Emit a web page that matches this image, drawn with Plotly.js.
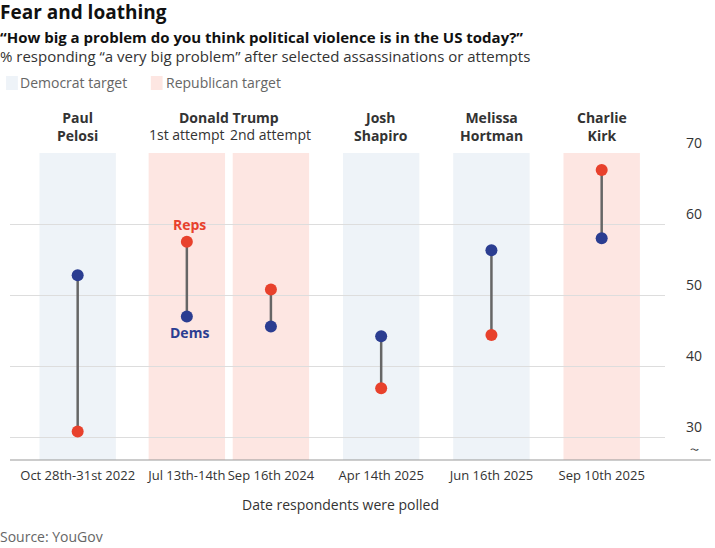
<!DOCTYPE html>
<html>
<head>
<meta charset="utf-8">
<script src="https://cdn.plot.ly/plotly-3.0.1.min.js"></script>
<style>body{margin:0;background:#fff}</style>
</head>
<body>
<div id="chart" style="width:715px;height:548px"></div>
<script>
// values
var dates = ['Oct 28th-31st 2022', 'Jul 13th-14th', 'Sep 16th 2024', 'Apr 14th 2025', 'Jun 16th 2025', 'Sep 10th 2025'];
var xpos = [0, 1, 1.77, 2.78, 3.79, 4.8];
var targets = ['dem', 'rep', 'rep', 'dem', 'dem', 'rep'];
var headers = ['Paul<br>Pelosi', '', '', 'Josh<br>Shapiro', 'Melissa<br>Hortman', 'Charlie<br>Kirk'];
var dems = [52.8, 47.0, 45.6, 44.2, 56.3, 58.0];
var reps = [30.8, 57.5, 50.8, 36.9, 44.4, 67.6];

var blue = '#2b3d91', red = '#e8412c';
var txt = '#333';

// paper y from pixel row (plot area spans rows 153..460)
var py = function(p) { return (460 - p) / 307; };

var shapes = [], annotations = [];
var lineX = [], lineY = [];
xpos.forEach(function(x, i) {
    shapes.push({
        type: 'rect', xref: 'x', yref: 'y', layer: 'below',
        x0: x - 0.35, x1: x + 0.35, y0: 26.8, y1: 70,
        fillcolor: targets[i] === 'dem' ? '#eef3f8' : '#fde6e2', line: {width: 0}
    });
    lineX.push(x, x, null);
    lineY.push(dems[i], reps[i], null);
    if (headers[i]) {
        annotations.push({xref: 'x', yref: 'paper', x: x, y: py(106), yanchor: 'top',
            text: '<b>' + headers[i] + '</b>', showarrow: false, font: {size: 14, color: txt}});
    }
});
annotations.push(
    {xref: 'x', yref: 'paper', x: 1.385, y: py(106), yanchor: 'top', text: '<b>Donald Trump</b>', showarrow: false, font: {size: 14, color: txt}},
    {xref: 'x', yref: 'paper', x: 1, y: py(123), yanchor: 'top', text: '1st attempt', showarrow: false, font: {size: 14, color: txt}},
    {xref: 'x', yref: 'paper', x: 1.77, y: py(123), yanchor: 'top', text: '2nd attempt', showarrow: false, font: {size: 14, color: txt}},
    {xref: 'x', yref: 'y', x: 1.02, y: reps[1] + 2.4, text: '<b>Reps</b>', showarrow: false, font: {size: 14, color: red}},
    {xref: 'x', yref: 'y', x: 1.02, y: dems[1] - 2.3, text: '<b>Dems</b>', showarrow: false, font: {size: 14, color: blue}},
    {xref: 'paper', yref: 'paper', x: -0.018, y: py(-3), xanchor: 'left', yanchor: 'top', text: '<b>Fear and loathing</b>', showarrow: false, font: {size: 19, color: '#111'}},
    {xref: 'paper', yref: 'paper', x: -0.018, y: py(25), xanchor: 'left', yanchor: 'top', text: '<b>“How big a problem do you think political violence is in the US today?”</b>', showarrow: false, font: {size: 15, color: '#111'}},
    {xref: 'paper', yref: 'paper', x: -0.018, y: py(44), xanchor: 'left', yanchor: 'top', text: '% responding “a very big problem” after selected assassinations or attempts', showarrow: false, font: {size: 15, color: txt}},
    {xref: 'paper', yref: 'paper', x: 0.012, y: py(83), xanchor: 'left', yanchor: 'middle', text: 'Democrat target', showarrow: false, font: {size: 14, color: '#666'}},
    {xref: 'paper', yref: 'paper', x: 0.235, y: py(83), xanchor: 'left', yanchor: 'middle', text: 'Republican target', showarrow: false, font: {size: 14, color: '#666'}},
    {xref: 'paper', yref: 'paper', x: 0.505, y: py(504), yanchor: 'middle', text: 'Date respondents were polled', showarrow: false, font: {size: 14, color: txt}},
    {xref: 'paper', yref: 'paper', x: -0.018, y: py(536), xanchor: 'left', yanchor: 'middle', text: 'Source: YouGov', showarrow: false, font: {size: 14, color: '#666'}},
    {xref: 'paper', yref: 'paper', x: 1.055, y: py(449), yanchor: 'middle', text: '〜', showarrow: false, font: {size: 9, color: '#333'}}
);
shapes.push(
    {type: 'rect', xref: 'paper', yref: 'paper', x0: -0.006, x1: 0.012, y0: py(90), y1: py(76), fillcolor: '#eef3f8', line: {width: 0}},
    {type: 'rect', xref: 'paper', yref: 'paper', x0: 0.215, x1: 0.233, y0: py(90), y1: py(76), fillcolor: '#fde6e2', line: {width: 0}},
    {type: 'line', xref: 'paper', yref: 'paper', x0: 0, x1: 1.07, y0: 0, y1: 0, line: {color: '#999', width: 1}}
);

var data = [
    {x: lineX, y: lineY, mode: 'lines', line: {color: '#666', width: 2.5}, hoverinfo: 'skip'},
    {x: xpos, y: dems, mode: 'markers', marker: {color: blue, size: 12}},
    {x: xpos, y: reps, mode: 'markers', marker: {color: red, size: 12}}
];

var layout = {
    width: 715, height: 548,
    margin: {l: 10, r: 50, t: 153, b: 88},
    paper_bgcolor: '#fff', plot_bgcolor: '#fff',
    showlegend: false,
    font: {family: 'Open Sans, sans-serif', color: txt},
    xaxis: {range: [-0.62, 5.38], tickvals: xpos, ticktext: dates, showgrid: false, zeroline: false,
        ticks: '', tickangle: 0, tickfont: {size: 13, color: txt}, ticklabelstandoff: 6, fixedrange: true},
    yaxis: {range: [26.8, 70], side: 'right', tickvals: [30, 40, 50, 60, 70], showgrid: true,
        gridcolor: '#ddd', zeroline: false, ticks: '', ticklabelposition: 'outside top',
        tickfont: {size: 14, color: txt}, ticklabelstandoff: 20},
    shapes: shapes,
    annotations: annotations
};

Plotly.newPlot('chart', data, layout, {displayModeBar: false});
</script>
</body>
</html>
